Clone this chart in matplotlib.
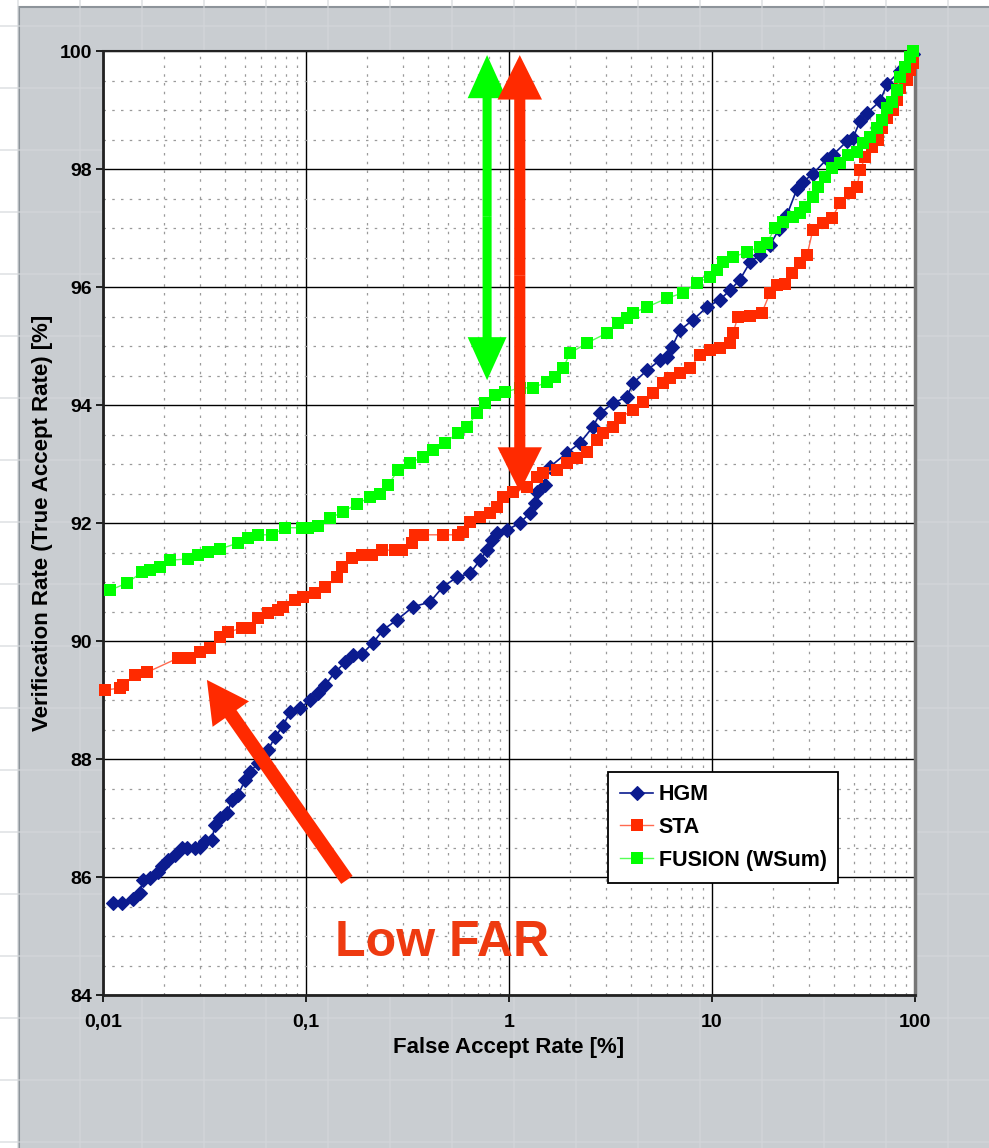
import matplotlib.pyplot as plt
from matplotlib.lines import Line2D
from matplotlib.patches import Rectangle
from matplotlib.ticker import MultipleLocator, LogLocator, NullFormatter

plt.rcParams['font.family'] = ['Liberation Sans', 'DejaVu Sans']
plt.rcParams['font.weight'] = 'bold'

# ROC points: false accept rate [%] vs verification rate [%]
hgm_far = [0.0112, 0.0124, 0.0141, 0.0152, 0.0157, 0.0170, 0.0187, 0.0195, 0.0209, 0.0226,
           0.0245, 0.0259, 0.0284, 0.0301, 0.0318, 0.0344, 0.0356, 0.0377, 0.0408, 0.0432,
           0.0462, 0.0501, 0.0530, 0.0580, 0.0607, 0.0650, 0.0703, 0.0770, 0.0834, 0.0933,
           0.105, 0.115, 0.124, 0.139, 0.156, 0.170, 0.189, 0.214, 0.240, 0.281,
           0.337, 0.408, 0.473, 0.554, 0.643, 0.720, 0.779, 0.825, 0.873, 0.978,
           1.13, 1.27, 1.34, 1.37, 1.50, 1.59, 1.93, 2.24, 2.59, 2.81,
           3.25, 3.81, 4.08, 4.79, 5.54, 6.00, 6.35, 6.95, 8.05, 9.44,
           10.9, 12.3, 13.7, 15.4, 17.2, 19.3, 21.4, 23.4, 26.2, 28.1,
           31.4, 36.9, 39.4, 46.2, 49.5, 53.6, 58.1, 67.3, 72.8, 84.3, 97.7]
hgm_vr = [85.56, 85.56, 85.63, 85.73, 85.95, 85.98, 86.08, 86.19, 86.29, 86.37,
          86.49, 86.49, 86.49, 86.51, 86.61, 86.63, 86.88, 87.00, 87.08, 87.30,
          87.39, 87.64, 87.78, 87.93, 88.02, 88.15, 88.37, 88.56, 88.80, 88.86,
          89.00, 89.12, 89.25, 89.47, 89.64, 89.76, 89.78, 89.97, 90.19, 90.36,
          90.58, 90.66, 90.92, 91.08, 91.15, 91.37, 91.54, 91.71, 91.83, 91.88,
          92.00, 92.17, 92.34, 92.53, 92.64, 92.95, 93.19, 93.36, 93.63, 93.86,
          94.03, 94.14, 94.37, 94.59, 94.76, 94.81, 94.98, 95.27, 95.44, 95.66,
          95.78, 95.95, 96.12, 96.42, 96.54, 96.71, 96.98, 97.22, 97.66, 97.78,
          97.92, 98.17, 98.24, 98.47, 98.53, 98.81, 98.95, 99.15, 99.44, 99.66, 99.95]

sta_far = [0.0102, 0.0121, 0.0126, 0.0144, 0.0165, 0.0234, 0.0268, 0.0301, 0.0337, 0.0377,
           0.0413, 0.0484, 0.0530, 0.0580, 0.0650, 0.0728, 0.0770, 0.0883, 0.0967, 0.111,
           0.124, 0.142, 0.150, 0.169, 0.189, 0.211, 0.237, 0.274, 0.297, 0.333,
           0.344, 0.377, 0.473, 0.561, 0.593, 0.643, 0.720, 0.806, 0.873, 0.934,
           1.05, 1.23, 1.37, 1.47, 1.72, 1.93, 2.16, 2.42, 2.71, 2.90,
           3.25, 3.52, 4.08, 4.57, 5.12, 5.74, 6.21, 6.95, 7.79, 8.73,
           9.77, 10.9, 12.3, 12.7, 13.4, 15.4, 17.6, 19.3, 20.9, 22.9,
           24.8, 27.1, 29.4, 31.4, 35.2, 39.0, 42.7, 47.9, 51.8, 53.6,
           56.8, 61.4, 65.8, 68.7, 72.8, 78.0, 81.5, 84.3, 91.4, 94.4, 97.7]
sta_vr = [89.17, 89.20, 89.25, 89.42, 89.47, 89.71, 89.71, 89.81, 89.88, 90.07,
          90.15, 90.22, 90.22, 90.39, 90.47, 90.53, 90.58, 90.69, 90.75, 90.81,
          90.92, 91.08, 91.25, 91.41, 91.46, 91.46, 91.54, 91.54, 91.54, 91.66,
          91.80, 91.80, 91.80, 91.80, 91.85, 92.02, 92.10, 92.17, 92.27, 92.44,
          92.53, 92.61, 92.78, 92.85, 92.90, 93.02, 93.10, 93.20, 93.41, 93.53,
          93.63, 93.78, 93.92, 94.05, 94.20, 94.37, 94.46, 94.54, 94.63, 94.85,
          94.93, 94.97, 95.05, 95.22, 95.49, 95.51, 95.56, 95.90, 96.03, 96.05,
          96.24, 96.41, 96.54, 96.97, 97.08, 97.17, 97.42, 97.59, 97.69, 97.98,
          98.20, 98.37, 98.49, 98.69, 98.86, 99.00, 99.17, 99.37, 99.51, 99.68, 99.80]

fus_far = [0.0108, 0.0131, 0.0156, 0.0170, 0.0191, 0.0214, 0.0262, 0.0294, 0.0329, 0.0377,
           0.0462, 0.0518, 0.0580, 0.0680, 0.0788, 0.0955, 0.102, 0.115, 0.131, 0.152,
           0.178, 0.207, 0.231, 0.254, 0.284, 0.325, 0.377, 0.423, 0.484, 0.561,
           0.621, 0.695, 0.762, 0.853, 0.955, 1.13, 1.31, 1.54, 1.69, 1.85,
           2.00, 2.42, 3.04, 3.44, 3.81, 4.08, 4.79, 6.00, 7.19, 8.43,
           9.77, 10.6, 11.3, 12.7, 14.9, 17.2, 18.7, 20.4, 22.4, 25.1,
           27.1, 28.7, 31.4, 33.3, 36.0, 39.0, 42.7, 46.8, 51.8, 55.5,
           60.0, 65.0, 68.7, 72.8, 77.1, 81.5, 84.3, 89.3, 94.4, 97.7]
fus_vr = [90.86, 90.98, 91.17, 91.20, 91.25, 91.37, 91.39, 91.46, 91.51, 91.56,
          91.66, 91.75, 91.80, 91.80, 91.92, 91.92, 91.92, 91.95, 92.08, 92.19,
          92.32, 92.44, 92.49, 92.64, 92.90, 93.02, 93.12, 93.24, 93.36, 93.53,
          93.63, 93.86, 94.03, 94.17, 94.22, 94.29, 94.29, 94.39, 94.47, 94.63,
          94.88, 95.05, 95.22, 95.39, 95.47, 95.56, 95.66, 95.81, 95.90, 96.07,
          96.17, 96.29, 96.42, 96.51, 96.59, 96.68, 96.75, 97.00, 97.10, 97.19,
          97.25, 97.36, 97.53, 97.69, 97.86, 98.02, 98.10, 98.24, 98.29, 98.44,
          98.54, 98.69, 98.83, 99.03, 99.14, 99.34, 99.56, 99.73, 99.90, 100.0]

x_ticks = [0.01, 0.1, 1, 10, 100]
x_tick_labels = ['0,01', '0,1', '1', '10', '100']

BLUE = '#0b1b8f'
RED = '#ff2a00'
GREEN = '#00ff00'
PANEL = '#c9cdd1'

W, H = 989, 1148
fig = plt.figure(figsize=(W / 100, H / 100), dpi=100)
fig.patch.set_facecolor('white')

# grey slide panel behind the chart, with its faint layout grid
fig.add_artist(Rectangle((19 / W, -0.01), 1.0, 1.01 - 7 / H, transform=fig.transFigure,
                         fc=PANEL, ec='#8d949a', lw=1.5, zorder=0))
for gx in range(18, W, 62):
    fig.add_artist(Line2D([gx / W, gx / W], [0, 1], transform=fig.transFigure,
                          color='#d4d7da', lw=1.2, alpha=0.7, zorder=0.5))
for gy in range(26, H, 62):
    fig.add_artist(Line2D([0, 1], [1 - gy / H, 1 - gy / H], transform=fig.transFigure,
                          color='#d4d7da', lw=1.2, alpha=0.7, zorder=0.5))

ax = fig.add_axes([103 / W, 1 - 995 / H, 812 / W, 944 / H])
ax.set_facecolor('white')
ax.set_zorder(2)
ax.set_xscale('log')
ax.set_xlim(0.01, 100)
ax.set_ylim(84, 100)

ax.set_xticks(x_ticks)
ax.set_xticklabels(x_tick_labels)
ax.xaxis.set_minor_locator(LogLocator(base=10, subs=range(2, 10)))
ax.xaxis.set_minor_formatter(NullFormatter())
ax.set_yticks(range(84, 101, 2))
ax.yaxis.set_minor_locator(MultipleLocator(0.5))

ax.grid(which='major', color='black', lw=1.0)
ax.grid(which='minor', color='#9a9a9a', lw=0.9, ls=(0, (2, 5)))
ax.set_axisbelow(True)
ax.tick_params(which='major', direction='out', length=5, width=1.2, labelsize=14, color='black')
ax.tick_params(axis='x', which='major', pad=9)
ax.tick_params(axis='y', which='major', pad=3)
ax.tick_params(which='minor', length=0)
for s in ax.spines.values():
    s.set_color('#222222')
    s.set_linewidth(1.5)
ax.spines['left'].set_linewidth(2)
ax.spines['bottom'].set_linewidth(2)
ax.spines['right'].set_color('#777777')
ax.spines['right'].set_linewidth(2.5)

ax.set_xlabel('False Accept Rate [%]', fontsize=16, fontweight='bold', labelpad=4)
ax.set_ylabel('Verification Rate (True Accept Rate) [%]', fontsize=16, fontweight='bold', labelpad=5)

ax.plot(hgm_far, hgm_vr, color=BLUE, lw=1.2, marker='D', ms=6.8, mec=BLUE, mew=0.8,
        label='HGM', clip_on=False, zorder=3)
ax.plot(sta_far, sta_vr, color='#ff6a50', lw=1.0, marker='s', ms=8.2, mfc=RED, mec=RED, mew=0,
        label='STA', clip_on=False, zorder=3.1)
ax.plot(fus_far, fus_vr, color='#55ff55', lw=1.0, marker='s', ms=8.2, mfc=GREEN, mec=GREEN, mew=0,
        label='FUSION (WSum)', clip_on=False, zorder=3.2)

leg = ax.legend(loc='lower left', bbox_to_anchor=(0.622, 0.119), fontsize=15.5,
                frameon=True, fancybox=False, framealpha=1, edgecolor='black',
                borderpad=0.55, labelspacing=0.55, handlelength=1.55, handletextpad=0.25,
                borderaxespad=0)
leg.get_frame().set_linewidth(1.3)
for t in leg.get_texts():
    t.set_fontweight('bold')


def arrow(start, end, color, tail, hw, hl):
    ax.annotate('', xy=end, xytext=start, xycoords='data', textcoords='data',
                annotation_clip=False, zorder=6,
                arrowprops=dict(arrowstyle=f'simple,head_length={hl},head_width={hw},tail_width={tail}',
                                mutation_scale=1, fc=color, ec='none', lw=0,
                                shrinkA=0, shrinkB=0))


# green double arrow: gap FUSION -> top
arrow((0.78, 97.2), (0.78, 99.93), GREEN, 6.5, 28, 31)
arrow((0.78, 97.2), (0.78, 94.42), GREEN, 6.5, 28, 31)
# red double arrow: gap STA -> top
arrow((1.13, 96.2), (1.13, 99.93), RED, 8, 32, 32)
arrow((1.13, 96.2), (1.13, 92.53), RED, 8, 32, 32)
# diagonal arrow pointing at the low FAR region
arrow((0.159, 85.95), (0.0325, 89.34), RED, 10, 32, 30)

ax.text(0.139, 84.66, 'Low FAR', transform=ax.transData, fontsize=36, fontweight='bold',
        color='#ee3a10', ha='left', va='baseline', zorder=6)

fig.savefig('out.png', dpi=100, facecolor=fig.get_facecolor())
